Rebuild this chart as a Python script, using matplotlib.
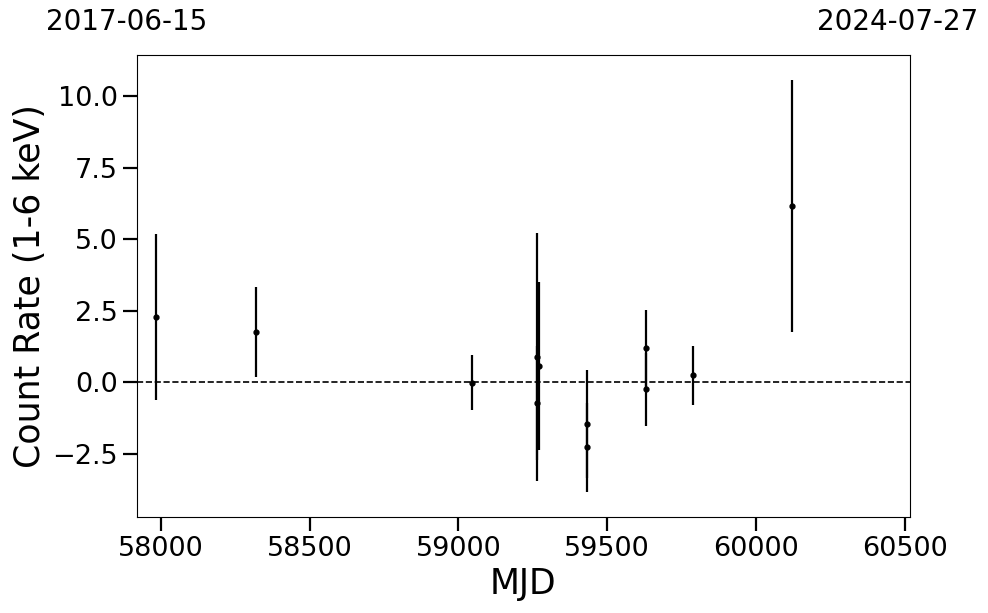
import matplotlib
matplotlib.use("Agg")
import matplotlib.pyplot as plt

# Data (MJD, count rate, 1-sigma error)
mjd = [57984, 58320, 59047, 59265, 59271, 59265, 59431, 59431, 59632, 59632, 59790, 60120]
rate = [2.27, 1.75, -0.01, 0.88, 0.57, -0.72, -1.46, -2.27, 1.19, -0.25, 0.25, 6.16]
err = [2.90, 1.58, 0.97, 4.34, 2.94, 2.00, 1.88, 1.56, 1.34, 1.27, 1.03, 4.42]

start_mjd, end_mjd = 57919, 60518
start_label, end_label = "2017-06-15", "2024-07-27"

fig = plt.figure(figsize=(9.88, 6.13), dpi=100)
ax = fig.add_axes([0.1384, 0.1566, 0.7826, 0.7537])

ax.errorbar(mjd, rate, yerr=err, fmt='o', color='black', ms=3.5,
            elinewidth=1.6, capsize=0, zorder=3)
ax.axhline(0, color='black', ls='--', lw=1.2)

ax.set_xlim(start_mjd, end_mjd)
ax.set_ylim(-4.71, 11.44)
ax.set_xticks([58000, 58500, 59000, 59500, 60000, 60500])
ax.set_yticks([-2.5, 0.0, 2.5, 5.0, 7.5, 10.0])
ax.tick_params(axis='both', which='major', labelsize=19.5, length=10, width=1.6)
ax.set_xlabel("MJD", fontsize=25)
ax.set_ylabel("Count Rate (1-6 keV)", fontsize=25)

fig.text(127/988, 1 - 22/613, start_label, fontsize=20, ha='center', va='center')
fig.text(898/988, 1 - 22/613, end_label, fontsize=20, ha='center', va='center')

fig.savefig("out.png", dpi=100)
